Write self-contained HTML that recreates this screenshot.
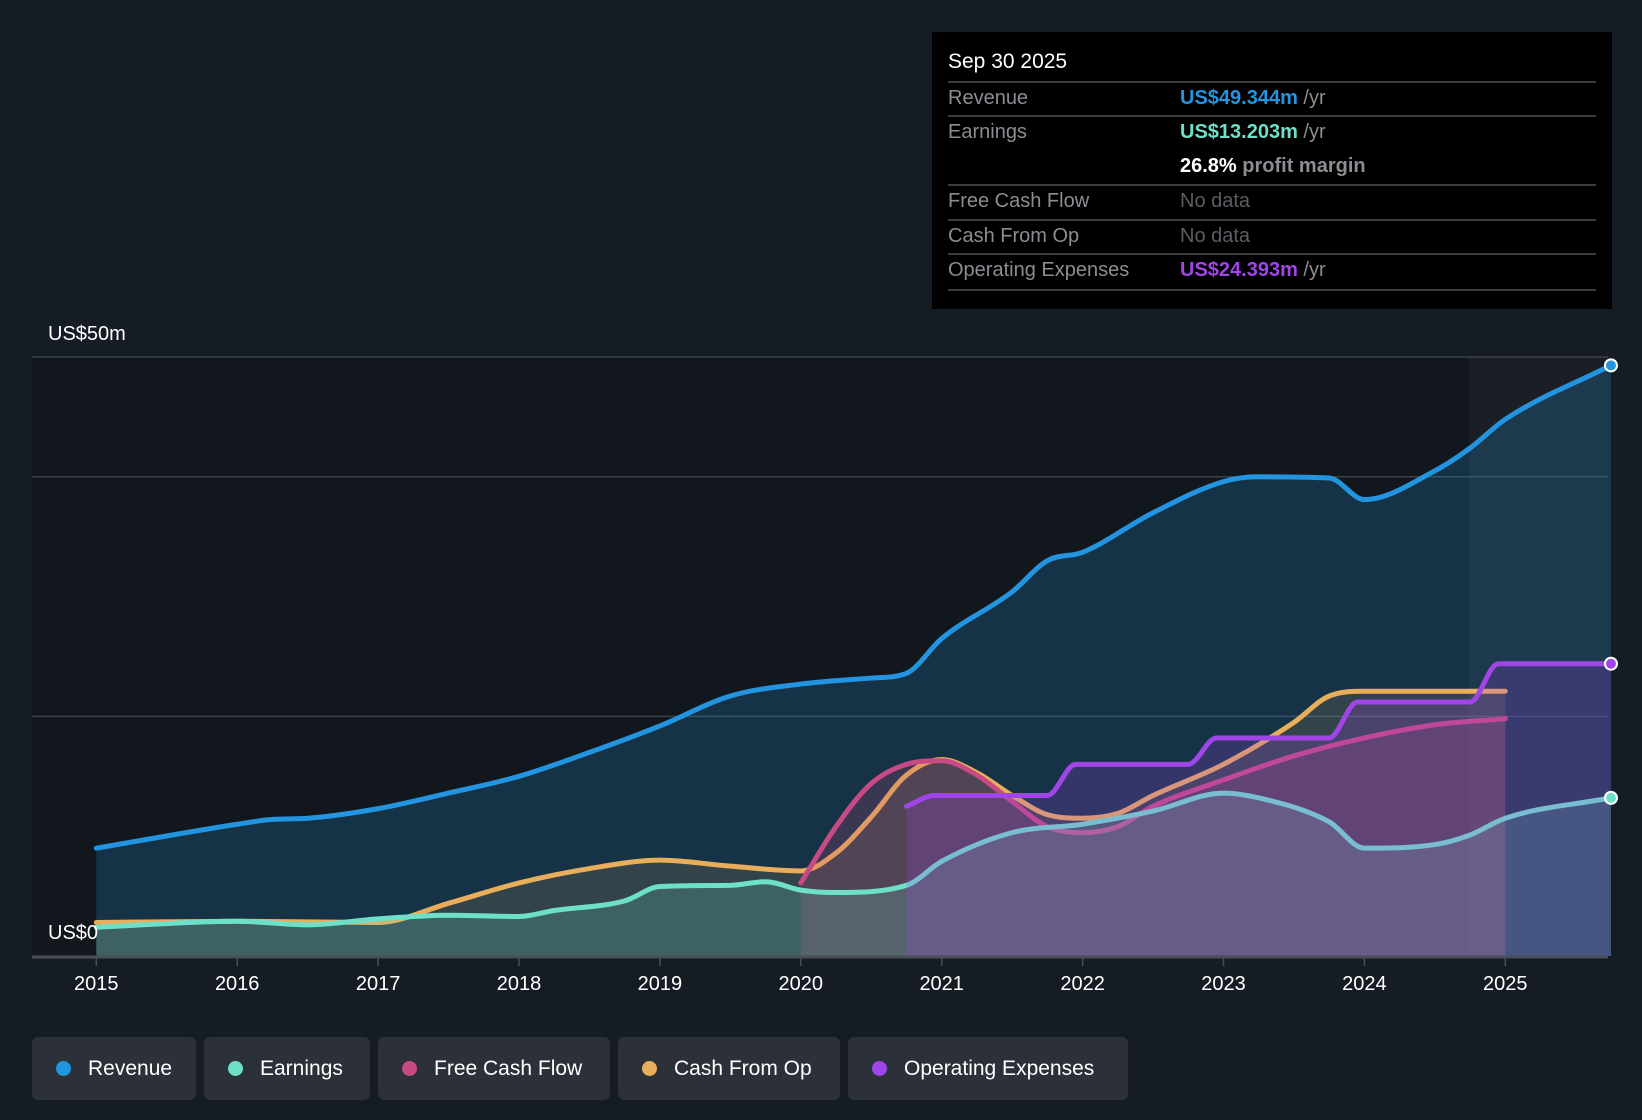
<!DOCTYPE html>
<html><head><meta charset="utf-8"><style>
body{margin:0;background:#161c24;width:1642px;height:1120px;overflow:hidden;font-family:"Liberation Sans",sans-serif}
#tip{position:absolute;left:932px;top:32px;width:680px;height:277px;background:#000}
.row{position:absolute;left:16px;width:648px;border-top:2px solid #3a3d42;font-size:20px;color:#8a8d92}
.lbl{position:absolute;left:0}
.val{position:absolute;left:232px}
.legend{position:absolute;top:1037px;height:63px;background:#2b3039;border-radius:6px;color:#fff;font-size:21px;line-height:63px}
.legend i{position:absolute;left:24px;top:24px;width:15px;height:15px;border-radius:50%}
.legend span{position:absolute;left:56px}
</style></head><body>
<svg id="chart" width="1642" height="1120" style="position:absolute;left:0;top:0"></svg>
<div id="tip">
<div style="position:absolute;left:16px;top:18px;color:#fff;font-size:21px">Sep 30 2025</div>
<div class="row" style="top:49px;height:32px"><span class="lbl" style="top:4px">Revenue</span><span class="val" style="top:4px"><b style="color:#2394df">US$49.344m</b> /yr</span></div>
<div class="row" style="top:83px;height:68px"><span class="lbl" style="top:4px">Earnings</span><span class="val" style="top:4px"><b style="color:#6ee0c9">US$13.203m</b> /yr</span><span class="val" style="top:38px"><b style="color:#fff">26.8%</b> <b>profit margin</b></span></div>
<div class="row" style="top:152px;height:34px"><span class="lbl" style="top:4px">Free Cash Flow</span><span class="val" style="top:4px;color:#5a5d62">No data</span></div>
<div class="row" style="top:187px;height:33px"><span class="lbl" style="top:4px">Cash From Op</span><span class="val" style="top:4px;color:#5a5d62">No data</span></div>
<div class="row" style="top:221px;height:34px;border-bottom:2px solid #3a3d42"><span class="lbl" style="top:4px">Operating Expenses</span><span class="val" style="top:4px"><b style="color:#a046e6">US$24.393m</b> /yr</span></div>
</div>
<div class="legend" style="left:32px;width:164px"><i style="background:#2394df"></i><span>Revenue</span></div>
<div class="legend" style="left:204px;width:166px"><i style="background:#6ee0c9"></i><span>Earnings</span></div>
<div class="legend" style="left:378px;width:232px"><i style="background:#c84a84"></i><span>Free Cash Flow</span></div>
<div class="legend" style="left:618px;width:222px"><i style="background:#e9ae5b"></i><span>Cash From Op</span></div>
<div class="legend" style="left:848px;width:280px"><i style="background:#a046e6"></i><span>Operating Expenses</span></div>
<script>
const years=[2015,2016,2017,2018,2019,2020,2021,2022,2023,2024,2025];
const revT=[2015,2016,2016.25,2016.5,2017,2017.5,2018,2018.5,2019,2019.5,2020,2020.5,2020.75,2021,2021.5,2021.75,2022,2022.5,2023,2023.25,2023.75,2024,2024.5,2024.75,2025,2025.75];
const revV=[9.0,11.0,11.4,11.5,12.3,13.6,15.0,17.0,19.2,21.7,22.7,23.2,23.6,26.5,30.4,33.0,33.7,37.0,39.6,40.0,39.9,38.1,40.5,42.4,44.8,49.3];
const earnT=[2015,2016,2016.5,2017,2017.5,2018,2018.25,2018.75,2019,2019.5,2019.75,2020,2020.25,2020.75,2021,2021.5,2022,2022.5,2023,2023.25,2023.75,2024,2024.5,2024.75,2025,2025.75];
const earnV=[2.4,2.9,2.6,3.1,3.4,3.3,3.8,4.6,5.8,5.9,6.2,5.5,5.3,5.9,7.9,10.3,11.0,12.1,13.6,13.2,11.2,9.0,9.3,10.1,11.5,13.2];
const fcfT=[2020,2020.25,2020.5,2020.75,2021,2021.25,2021.5,2021.75,2022,2022.25,2022.5,2023,2023.5,2024,2024.5,2025];
const fcfV=[6.1,10.8,14.4,16.0,16.3,15.1,12.9,10.8,10.3,10.8,12.5,14.7,16.7,18.2,19.3,19.8];
const cfoT=[2015,2016,2017,2017.5,2018,2018.5,2019,2019.5,2020,2020.25,2020.5,2020.75,2021,2021.25,2021.5,2021.75,2022,2022.25,2022.5,2023,2023.5,2023.75,2024,2025];
const cfoV=[2.8,2.9,2.8,4.4,6.1,7.3,8.0,7.5,7.1,8.6,11.6,15.1,16.4,15.3,13.4,11.8,11.5,11.9,13.4,16.0,19.5,21.7,22.1,22.1];
const opxT=[2020.75,2020.95,2021.75,2021.95,2022.75,2022.95,2023.75,2023.95,2024.75,2024.95,2025.75];
const opxV=[12.5,13.4,13.4,16.0,16.0,18.2,18.2,21.2,21.2,24.4,24.4];
const yTicks=[0,50];
const NS='http://www.w3.org/2000/svg',svg=document.getElementById('chart');
const X=t=>96.3+(t-2015)*140.9, Y=v=>956-v*11.98;
function el(tag,attrs,txt){const e=document.createElementNS(NS,tag);for(const k in attrs)e.setAttribute(k,attrs[k]);if(txt!=null)e.textContent=txt;svg.appendChild(e);return e;}
function path(T,V){const p=T.map((t,i)=>[X(t),Y(V[i])]),n=p.length;
const dl=[],m=[];for(let i=0;i<n-1;i++)dl.push((p[i+1][1]-p[i][1])/(p[i+1][0]-p[i][0]));
for(let i=0;i<n;i++){if(i==0)m.push(dl[0]);else if(i==n-1)m.push(dl[n-2]);else m.push(dl[i-1]*dl[i]<=0?0:(dl[i-1]+dl[i])/2);}
for(let i=0;i<n-1;i++){if(dl[i]==0){m[i]=0;m[i+1]=0;continue;}const a=m[i]/dl[i],b=m[i+1]/dl[i],s=a*a+b*b;if(s>9){const t=3/Math.sqrt(s);m[i]=t*a*dl[i];m[i+1]=t*b*dl[i];}}
let d='M'+p[0][0]+','+p[0][1];
for(let i=0;i<n-1;i++){const h=(p[i+1][0]-p[i][0])/3;d+=' C'+(p[i][0]+h)+','+(p[i][1]+m[i]*h)+' '+(p[i+1][0]-h)+','+(p[i+1][1]-m[i+1]*h)+' '+p[i+1][0]+','+p[i+1][1];}return d;}
let r=el('rect',{x:32,y:357,width:1576,height:599,fill:'#12161d'});


r=el('rect',{x:1469,y:357,width:139,height:599,fill:'rgba(255,255,255,0.04)'});


[20,40,50].forEach(v=>{const g=el('line',{x1:32,x2:1608,y1:Y(v),y2:Y(v),stroke:'#3a4049','stroke-width':1.5});

});
const series=[[revT,revV,'#2394df',0.22,'revenue'],[cfoT,cfoV,'#e9ae5b',0.14,'cash-from-op'],[fcfT,fcfV,'#c84a84',0.2,'free-cash-flow'],[earnT,earnV,'#6ee0c9',0.2,'earnings'],[opxT,opxV,'#a046e6',0.22,'operating-expenses']];
series.forEach(([T,V,c,o,n])=>{const d=path(T,V);
const a=el('path',{d:d+' L'+X(T[T.length-1])+',956 L'+X(T[0])+',956 Z',fill:c,'fill-opacity':o});


const l=el('path',{d:d,fill:'none',stroke:c,'stroke-width':5,'stroke-linecap':'round'});

});
[[revT,revV,'#2394df','revenue'],[opxT,opxV,'#a046e6','operating-expenses'],[earnT,earnV,'#6ee0c9','earnings']].forEach(([T,V,c,n])=>{
const d=el('circle',{cx:X(T[T.length-1]),cy:Y(V[V.length-1]),r:6,fill:c,stroke:'#fff','stroke-width':2});

});
const ax=el('line',{x1:32,x2:1608,y1:957,y2:957,stroke:'#4a4f57','stroke-width':3});


years.forEach(yr=>{const t=el('line',{x1:X(yr),x2:X(yr),y1:957,y2:966,stroke:'#4a4f57','stroke-width':1.5});


const l=el('text',{x:X(yr),y:990,fill:'#fff','font-size':20,'text-anchor':'middle','font-family':'Liberation Sans'},yr);

});
yTicks.forEach(v=>{const l=el('text',{x:48,y:Y(v)-17,fill:'#fff','font-size':20,'font-family':'Liberation Sans'},'US$'+v+(v?'m':''));

});
</script>
</body></html>
